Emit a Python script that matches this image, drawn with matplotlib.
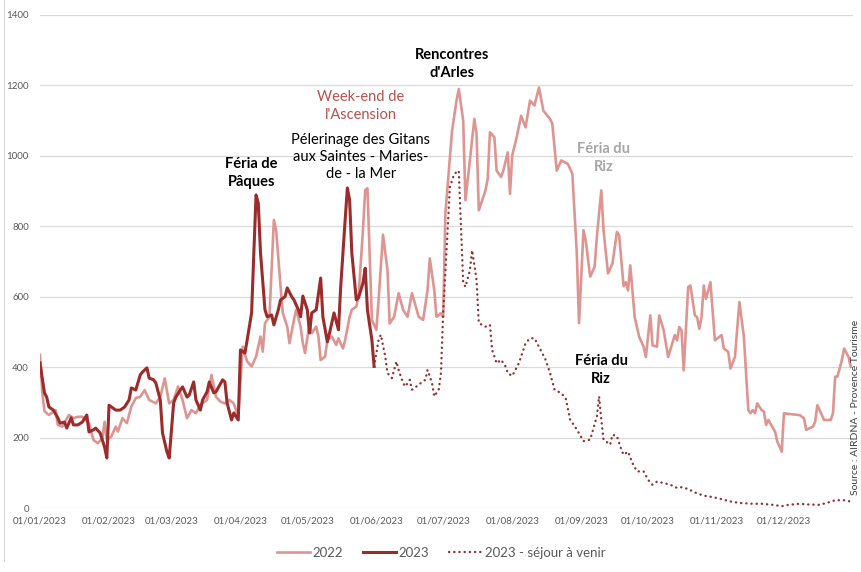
import matplotlib.pyplot as plt
from matplotlib.lines import Line2D

plt.rcParams['font.family'] = ['Lato', 'DejaVu Sans']

# day of year (0 = 01/01/2023) and value
days_2022 = [0, 1, 2, 4, 7, 8, 10, 13, 15, 17, 19, 22, 24, 26, 28, 29, 30, 32, 34, 35, 37, 39, 41, 43, 45,
             47, 49, 52, 54, 56, 58, 60, 62, 64, 66, 68, 70, 72, 75, 77, 79, 81, 83, 85, 87, 89, 91, 93,
             95, 97, 99, 100, 101, 103, 105, 106, 108, 109, 111, 112, 114, 115, 117, 118, 119, 121, 122,
             124, 125, 126, 128, 129, 131, 133, 134, 136, 137, 139, 140, 142, 143, 145, 146, 147, 148,
             149, 151, 152, 154, 156, 157, 159, 161, 163, 165, 167, 170, 172, 174, 175, 177, 178, 180,
             181, 182, 185, 187, 188, 190, 191, 193, 195, 196, 197, 200, 201, 202, 204, 205, 207, 208,
             210, 211, 212, 214, 216, 218, 220, 222, 224, 226, 229, 230, 232, 234, 237, 239, 241, 242,
             244, 245, 247, 249, 250, 252, 253, 255, 257, 259, 260, 262, 263, 264, 265, 267, 269, 271,
             272, 274, 275, 277, 278, 280, 282, 285, 286, 287, 288, 289, 291, 292, 294, 295, 296, 297,
             298, 299, 301, 303, 306, 307, 309, 310, 312, 314, 316, 318, 319, 320, 321, 322, 324, 325,
             326, 327, 330, 331, 333, 334, 336, 341, 343, 344, 347, 348, 349, 350, 352, 355, 356, 357,
             358, 360, 361, 363, 364]
vals_2022 = [435, 330, 275, 264, 278, 236, 231, 264, 255, 259, 259, 241, 193, 184, 198, 245, 193, 203, 231,
             217, 255, 241, 288, 312, 316, 335, 307, 297, 316, 368, 297, 307, 345, 307, 255, 278, 269, 293,
             307, 378, 316, 302, 297, 307, 297, 259, 458, 416, 402, 430, 487, 444, 524, 543, 818, 790, 629,
             554, 515, 468, 534, 563, 515, 468, 440, 524, 496, 515, 487, 420, 430, 477, 487, 463, 482, 453,
             477, 543, 563, 572, 600, 790, 903, 908, 724, 534, 506, 591, 776, 676, 524, 543, 610, 563, 543,
             610, 543, 534, 619, 709, 619, 543, 553, 543, 836, 1072, 1157, 1190, 1100, 874, 987, 1105,
             1062, 845, 902, 935, 1067, 1053, 958, 940, 958, 1010, 892, 1001, 1053, 1114, 1081, 1157, 1143,
             1194, 1128, 1105, 1091, 958, 987, 977, 949, 723, 525, 789, 760, 657, 685, 770, 902, 789, 666,
             694, 784, 775, 630, 641, 618, 689, 542, 486, 458, 429, 547, 462, 458, 547, 505, 429, 491, 476,
             514, 505, 391, 627, 632, 547, 542, 509, 542, 632, 594, 641, 476, 491, 453, 443, 396, 429, 585,
             486, 278, 269, 278, 269, 297, 278, 274, 236, 250, 217, 189, 160, 269, 267, 264, 255, 222, 231,
             245, 292, 278, 250, 250, 269, 373, 373, 420, 453, 429, 401]

days_2023 = [0, 2, 3, 4, 6, 8, 9, 11, 12, 14, 15, 17, 19, 21, 22, 24, 25, 27, 29, 30, 31, 34, 36, 38, 40,
             41, 43, 45, 46, 48, 49, 51, 52, 54, 55, 57, 58, 60, 61, 63, 64, 66, 67, 69, 70, 72, 73, 75,
             76, 78, 79, 82, 83, 84, 86, 87, 89, 90, 92, 93, 95, 96, 97, 98, 99, 101, 102, 104, 105, 107,
             108, 110, 111, 113, 114, 116, 117, 118, 120, 121, 122, 124, 126, 127, 129, 130, 132, 134,
             135, 137, 138, 139, 140, 142, 143, 145, 146, 147, 149, 150]
vals_2023 = [412, 327, 315, 287, 278, 256, 241, 244, 227, 256, 236, 236, 244, 264, 216, 222, 227, 213, 173,
             142, 292, 278, 278, 287, 307, 341, 335, 378, 386, 398, 369, 364, 355, 307, 213, 159, 142, 298,
             315, 335, 344, 315, 321, 358, 307, 278, 307, 330, 358, 327, 330, 364, 358, 298, 250, 270, 250,
             449, 440, 477, 554, 724, 889, 866, 724, 563, 543, 548, 520, 563, 591, 600, 625, 600, 591, 563,
             543, 602, 563, 497, 554, 563, 653, 543, 472, 497, 554, 506, 628, 818, 909, 875, 724, 591, 597,
             639, 681, 563, 477, 402]

days_venir = [150, 152, 153, 155, 156, 158, 160, 161, 163, 164, 166, 167, 169, 171, 173, 174, 176, 177,
              179, 180, 181, 183, 184, 186, 188, 189, 190, 191, 193, 194, 196, 197, 200, 202, 203, 205,
              207, 209, 210, 212, 215, 218, 220, 222, 224, 227, 229, 231, 234, 236, 238, 241, 244, 247,
              250, 251, 252, 253, 256, 257, 259, 261, 262, 264, 266, 268, 271, 273, 275, 277, 280, 283,
              286, 288, 291, 294, 298, 302, 306, 311, 315, 320, 324, 329, 333, 336, 341, 345, 350, 354,
              357, 361, 365]
vals_venir = [402, 477, 492, 430, 383, 369, 416, 392, 355, 345, 364, 336, 345, 355, 364, 392, 355, 317,
              336, 383, 553, 789, 911, 949, 958, 800, 640, 628, 675, 732, 647, 525, 515, 520, 449, 411,
              421, 402, 383, 375, 411, 468, 482, 482, 458, 421, 383, 336, 326, 312, 251, 223, 190, 194,
              260, 317, 251, 194, 180, 208, 204, 166, 151, 160, 127, 104, 104, 80, 66, 75, 71, 66, 57, 59,
              54, 44, 35, 31, 25, 17, 14, 12, 12, 9, 5, 9, 12, 10, 9, 16, 22, 22, 17]

month_days = [0, 31, 59, 90, 120, 151, 181, 212, 243, 273, 304, 334]
month_labels = ['01/01/2023', '01/02/2023', '01/03/2023', '01/04/2023', '01/05/2023', '01/06/2023',
                '01/07/2023', '01/08/2023', '01/09/2023', '01/10/2023', '01/11/2023', '01/12/2023']

fig = plt.figure(figsize=(8.61, 5.72), dpi=100)
ax = fig.add_axes([40 / 861, 64 / 572, 813 / 861, 493 / 572])

ax.plot(days_2022, vals_2022, color='#DE9591', lw=1.9, label='2022', zorder=2)
ax.plot(days_2023, vals_2023, color='#9C2B2C', lw=2.2, label='2023', zorder=3)
ax.plot(days_venir, vals_venir, color='#8E3335', lw=1.7, ls=(0, (0.1, 2.1)),
        dash_capstyle='round', label='2023 - séjour à venir', zorder=3)

ax.set_xlim(0, 365)
ax.set_ylim(0, 1400)
ax.set_yticks(range(0, 1401, 200))
ax.set_xticks(month_days)
ax.set_xticklabels(month_labels)
ax.grid(axis='y', color='#d9d9d9', lw=0.9)
ax.set_axisbelow(True)
for s in ax.spines.values():
    s.set_visible(False)
ax.tick_params(length=0, labelsize=7, colors='#595959', pad=6)
ax.tick_params(axis='y', pad=8)

ax.text(185, 1261, "Rencontres\nd'Arles", ha='center', va='center', fontsize=10.5,
        fontweight='bold', linespacing=1.3)
ax.text(144, 1142, "Week-end de\nl'Ascension", ha='center', va='center', fontsize=10.5,
        color='#B5524F', linespacing=1.3)
ax.text(144, 997, "Pélerinage des Gitans\naux Saintes - Maries-\nde - la Mer", ha='center',
        va='center', fontsize=10.5, linespacing=1.3)
ax.text(95, 951, "Féria de\nPâques", ha='center', va='center', fontsize=10.5,
        fontweight='bold', linespacing=1.3)
ax.text(253, 994, "Féria du\nRiz", ha='center', va='center', fontsize=10.5,
        fontweight='bold', color='#A6A6A6', linespacing=1.3)
ax.text(252, 392, "Féria du\nRiz", ha='center', va='center', fontsize=10.5,
        fontweight='bold', linespacing=1.3)

fig.text(855 / 861, (572 - 407) / 572, "Source : AIRDNA - Provence Tourisme", rotation=90,
         ha='center', va='center', fontsize=7.5, color='#404040')

fig.legend(loc='center', bbox_to_anchor=(441 / 861, 19 / 572), ncol=3, frameon=False,
           fontsize=9.5, labelcolor='#595959', handlelength=2.5, handletextpad=0.2,
           columnspacing=1.5)

fig.add_artist(Line2D([4 / 861, 4 / 861], [0.02, 1], color='#d9d9d9', lw=0.8))

fig.savefig('out.png', dpi=100)
